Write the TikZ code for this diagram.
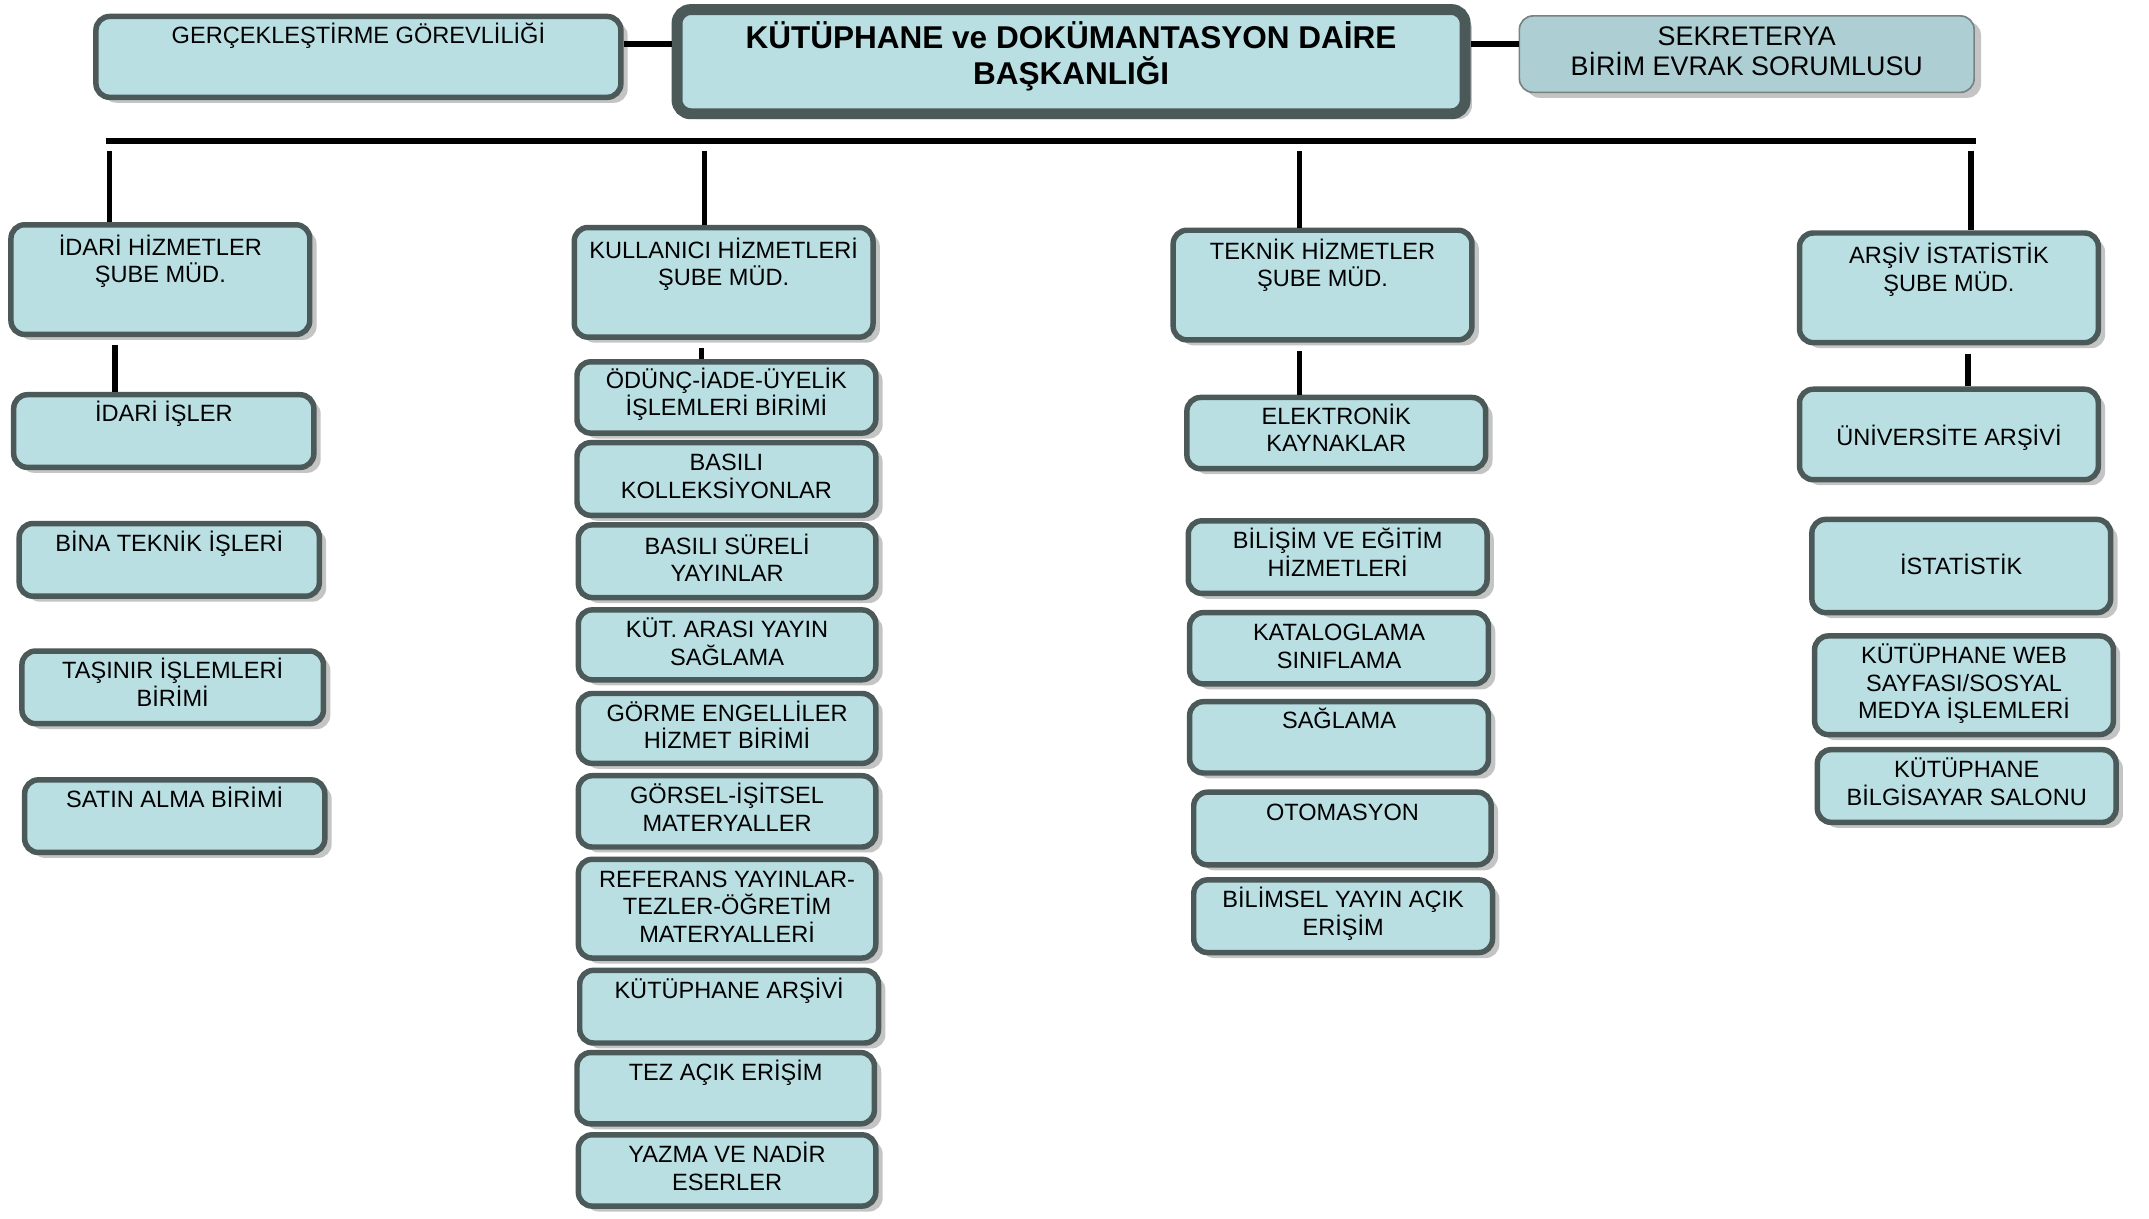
\documentclass[tikz,border=0pt]{standalone}
\usepackage{fontspec}
\setmainfont{Liberation Sans}
\usetikzlibrary{fit,calc,shadows}
\definecolor{kutumavi}{HTML}{B9DFE3}
\definecolor{kenar}{HTML}{4B5959}
\definecolor{golge}{HTML}{C4C4C4}
\definecolor{sekmavi}{HTML}{ADCFD3}
\tikzset{
  kutu/.style={draw=kenar, line width=2pt, fill=kutumavi, rounded corners=5pt, inner sep=-1pt,
    drop shadow={shadow xshift=2.5pt, shadow yshift=-2pt, fill=golge, opacity=1}},
  yazi/.style={align=center, inner sep=0pt, anchor=north, font=\fontsize{8.6}{10}\selectfont},
  hat/.style={line width=2pt, black},
}
% birim kutusu: [ilk satir] ad, x1, y1, x2, y2, metin
\newcommand{\birim}[7][22]{%
  \node[kutu, fit={(#3,#4) (#5,#6)}] (#2) {};
  \node[yazi] (#2-y) at ($(#2.north)+(0,#1-16)$) {\rule{0pt}{8pt}#7};}
\begin{document}
\begin{tikzpicture}[x=0.5pt, y=-0.5pt]
\useasboundingbox (0,0) rectangle (1568,889);
% ust sira
\birim[21]{gerc}{68}{10}{455}{73}{GERÇEKLEŞTİRME GÖREVLİLİĞİ}
\node[kutu, line width=4pt, inner sep=-2pt, fit={(490,3) (1073,87)}] (baskan) {};
\node[yazi, font=\bfseries\fontsize{11.5}{13}\selectfont] (baskan-y) at ($(baskan.north)+(0,12)$)
  {\rule{0pt}{10pt}KÜTÜPHANE ve DOKÜMANTASYON DAİRE\\BAŞKANLIĞI};
\node[kutu, draw=kenar!75, line width=0.6pt, inner sep=-0.3pt, fill=sekmavi, fit={(1108,11) (1441,68)}] (sekr) {};
\node[yazi, font=\fontsize{9.8}{11}\selectfont] (sekr-y) at ($(sekr.north)+(0,4)$)
  {\rule{0pt}{9pt}SEKRETERYA\\BİRİM EVRAK SORUMLUSU};
\coordinate (k) at (0,32);
\draw[hat, line width=2.4pt] (gerc.east |- k) -- (baskan.west |- k);
\draw[hat, line width=2.4pt] (baskan.east |- k) -- (sekr.west |- k);
% idari
\birim[24]{idari}{6}{162}{228}{246}{İDARİ HİZMETLER\\ŞUBE MÜD.}
\birim[21]{idaris}{8}{286}{231}{343}{İDARİ İŞLER}
\birim{bina}{12}{380}{235}{437}{BİNA TEKNİK İŞLERİ}
\birim{tasinir}{14}{473}{238}{530}{TAŞINIR İŞLEMLERİ\\BİRİMİ}
\birim{satin}{16}{567}{239}{624}{SATIN ALMA BİRİMİ}
% kullanici
\birim[24]{kull}{417}{164}{639}{248}{KULLANICI HİZMETLERİ\\ŞUBE MÜD.}
\birim[21]{odunc}{419}{262}{641}{318}{ÖDÜNÇ-İADE-ÜYELİK\\İŞLEMLERİ BİRİMİ}
\birim{bkol}{419}{321}{641}{378}{BASILI\\KOLLEKSİYONLAR}
\birim[23]{bsur}{420}{381}{641}{438}{BASILI SÜRELİ\\YAYINLAR}
\birim{kutarasi}{420}{443}{641}{498}{KÜT. ARASI YAYIN\\SAĞLAMA}
\birim{gorme}{420}{504}{641}{559}{GÖRME ENGELLİLER\\HİZMET BİRİMİ}
\birim{gorsel}{420}{564}{641}{620}{GÖRSEL-İŞİTSEL\\MATERYALLER}
\birim{ref}{420}{625}{641}{701}{REFERANS YAYINLAR-\\TEZLER-ÖĞRETİM\\MATERYALLERİ}
\birim{karsiv}{421}{706}{643}{763}{KÜTÜPHANE ARŞİVİ}
\birim{tez}{419}{766}{640}{822}{TEZ AÇIK ERİŞİM}
\birim{yazma}{420}{826}{641}{882}{YAZMA VE NADİR\\ESERLER}
% teknik
\birim[23]{teknik}{854}{166}{1076}{250}{TEKNİK HİZMETLER\\ŞUBE MÜD.}
\birim[21]{elek}{864}{288}{1086}{344}{ELEKTRONİK\\KAYNAKLAR}
\birim{bilisim}{865}{378}{1087}{435}{BİLİŞİM VE EĞİTİM\\HİZMETLERİ}
\birim{katalog}{866}{445}{1088}{501}{KATALOGLAMA\\SINIFLAMA}
\birim[21]{sagl}{866}{510}{1088}{566}{SAĞLAMA}
\birim{otom}{869}{576}{1090}{633}{OTOMASYON}
\birim{bilimsel}{869}{640}{1091}{697}{BİLİMSEL YAYIN AÇIK\\ERİŞİM}
% arsiv
\birim[24]{arsiv}{1311}{168}{1533}{252}{ARŞİV İSTATİSTİK\\ŞUBE MÜD.}
\birim[43]{univ}{1311}{282}{1533}{352}{ÜNİVERSİTE ARŞİVİ}
\birim[42]{ist}{1320}{377}{1542}{449}{İSTATİSTİK}
\birim{web}{1322}{462}{1544}{538}{KÜTÜPHANE WEB\\SAYFASI/SOSYAL\\MEDYA İŞLEMLERİ}
\birim{bilg}{1324}{545}{1546}{602}{KÜTÜPHANE\\BİLGİSAYAR SALONU}
% baglantilar
\coordinate (bar-l) at (77,103);
\coordinate (bar-r) at (1442,103);
\draw[hat, line width=2.4pt] (bar-l) -- (bar-r);
\foreach \x/\s in {80/idari, 514/kull, 948/teknik, 1438/arsiv}{
  \coordinate (d-\s) at (\x,110);
  \draw[hat] (d-\s) -- (d-\s |- \s.north);
}
\foreach \x/\a/\b in {84/idari/idaris, 512/kull/odunc, 948/teknik/elek, 1436/arsiv/univ}{
  \coordinate (s-\a) at (\x,0);
  \draw[hat] ([yshift=-3pt]\a.south -| s-\a) -- (\b.north -| s-\a);
}
\end{tikzpicture}
\end{document}
